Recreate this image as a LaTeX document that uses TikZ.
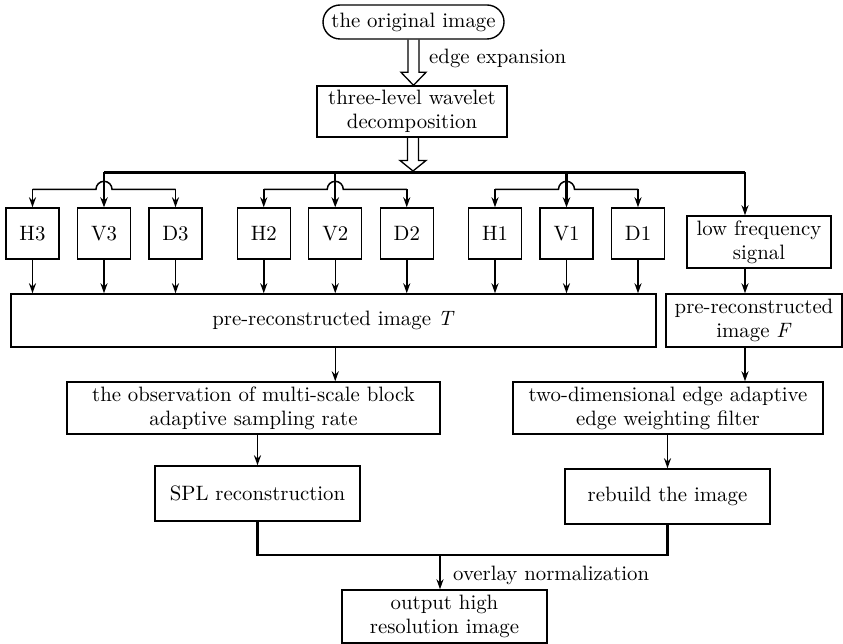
\documentclass[tikz,border=0pt]{standalone}
\usepackage{fontspec}
\setmainfont{lmroman10-regular.otf}[ItalicFont=lmroman10-italic.otf, BoldFont=lmroman10-bold.otf]
\usetikzlibrary{arrows.meta,calc}
\begin{document}
\begin{tikzpicture}[x=1pt,y=-1pt,
  every node/.style={font=\fontsize{20.8}{24}\selectfont},
  box/.style={draw, line width=1.4pt, inner sep=0pt, align=center},
  lbl/.style={inner sep=0pt, anchor=west},
  line/.style={line width=1.5pt},
  bus/.style={line width=2.7pt},
  arr/.style={line width=1.5pt, -{Stealth[length=10pt,width=7pt]}},
  arrthick/.style={line width=2.4pt, -{Stealth[length=10pt,width=7.5pt]}},
  hollow/.style={line width=1.3pt, line join=miter}]
\useasboundingbox (0,0) rectangle (843,644);

% top
\node[box, rounded corners=17pt, minimum width=181pt, minimum height=34pt] (orig) at (413.5,22) {the original image};
\node[box, minimum width=190pt, minimum height=51pt] (wav) at (412,111.5) {three-level wavelet\\decomposition};
\node[lbl] (ee) at (429,58) {edge expansion};

% hollow arrow 1
\draw[hollow] ($(orig.south)+(-5.5,0)$) -- ($(orig.south|-wav.north)+(-5.5,-13)$)
  -- ($(orig.south|-wav.north)+(-12.5,-13)$) -- (orig.south|-wav.north)
  -- ($(orig.south|-wav.north)+(12.5,-13)$) -- ($(orig.south|-wav.north)+(5.5,-13)$)
  -- ($(orig.south)+(5.5,0)$);

% bus
\coordinate (busY) at (0,172.5);
\coordinate (col) at (745,0);
\coordinate (top2) at (413,0);
% hollow arrow 2
\draw[hollow] ($(top2|-wav.south)+(-5.5,0)$) -- ($(top2|-busY)+(-5.5,-12)$)
  -- ($(top2|-busY)+(-13,-12)$) -- ($(top2|-busY)+(0,-1.5)$)
  -- ($(top2|-busY)+(13,-12)$) -- ($(top2|-busY)+(5.5,-12)$)
  -- ($(top2|-wav.south)+(5.5,0)$);

% detail boxes
\foreach \g/\x in {3/32.5,2/263.75,1/495} {
  \node[box, minimum width=53pt, minimum height=51pt] (H\g) at (\x,233.5) {H\g};
  \node[box, minimum width=53pt, minimum height=51pt] (V\g) at (\x+71.5,233.5) {V\g};
  \node[box, minimum width=53pt, minimum height=51pt] (D\g) at (\x+143,233.5) {D\g};
}
\node[box, minimum width=144pt, minimum height=52pt] (low) at (759,242) {low frequency\\signal};

\node[box, minimum width=645pt, minimum height=53pt] (T) at (333.5,320.5) {pre-reconstructed image \textit{T}};
\node[box, minimum width=176pt, minimum height=53pt] (F) at (754,320.5) {pre-reconstructed\\image \textit{F}};

\node[box, minimum width=373pt, minimum height=52pt] (obs) at (253.5,408) {the observation of multi-scale block\\adaptive sampling rate};
\node[box, minimum width=310pt, minimum height=52pt] (edge) at (668,408) {two-dimensional edge adaptive\\edge weighting filter};

\node[box, minimum width=205pt, minimum height=55pt] (spl) at (257.5,493.5) {SPL reconstruction};
\node[box, minimum width=205pt, minimum height=55pt] (reb) at (667.5,496.5) {rebuild the image};

\node[box, minimum width=205pt, minimum height=53pt] (out) at (444.5,616.5) {output high\\resolution image};
\node[lbl] (ov) at (453,575) {overlay normalization};

% main bus
\draw[bus] (V3.north|-busY) -- (col|-busY);

\foreach \g in {3,2,1} {
  \coordinate (s\g) at ($(V\g.north)+(0,-18)$);
  \draw[line] (H\g.north|-s\g) -- ($(s\g)+(-8pt,0)$) arc[start angle=180,end angle=0,radius=8pt] -- (D\g.north|-s\g);
  \draw[arr] (H\g.north|-s\g) -- (H\g.north);
  \draw[arr] (D\g.north|-s\g) -- (D\g.north);
  \draw[arrthick] (V\g.north|-busY) -- (V\g.north);
  \draw[arr] (H\g.south) -- (H\g.south|-T.north);
  \draw[arr] (V\g.south) -- (V\g.south|-T.north);
  \draw[arr] (D\g.south) -- (D\g.south|-T.north);
}

\draw[arr] (col|-busY) -- (col|-low.north);
\draw[arr] (col|-low.south) -- (col|-F.north);
\draw[arr] (col|-F.south) -- (col|-edge.north);

\draw[arr] (V2.center|-T.south) -- (V2.center|-obs.north);
\draw[arr] (spl.north|-obs.south) -- (spl.north);
\draw[arr] (reb.north|-edge.south) -- (reb.north);

\coordinate (joinY) at (0,555);
\draw[bus] (spl.south) -- (spl.south|-joinY) -- (reb.south|-joinY) -- (reb.south);
\draw[arr] (out.north|-joinY) ++(-4.5,0) -- ($(out.north)+(-4.5,0)$);
\end{tikzpicture}
\end{document}
